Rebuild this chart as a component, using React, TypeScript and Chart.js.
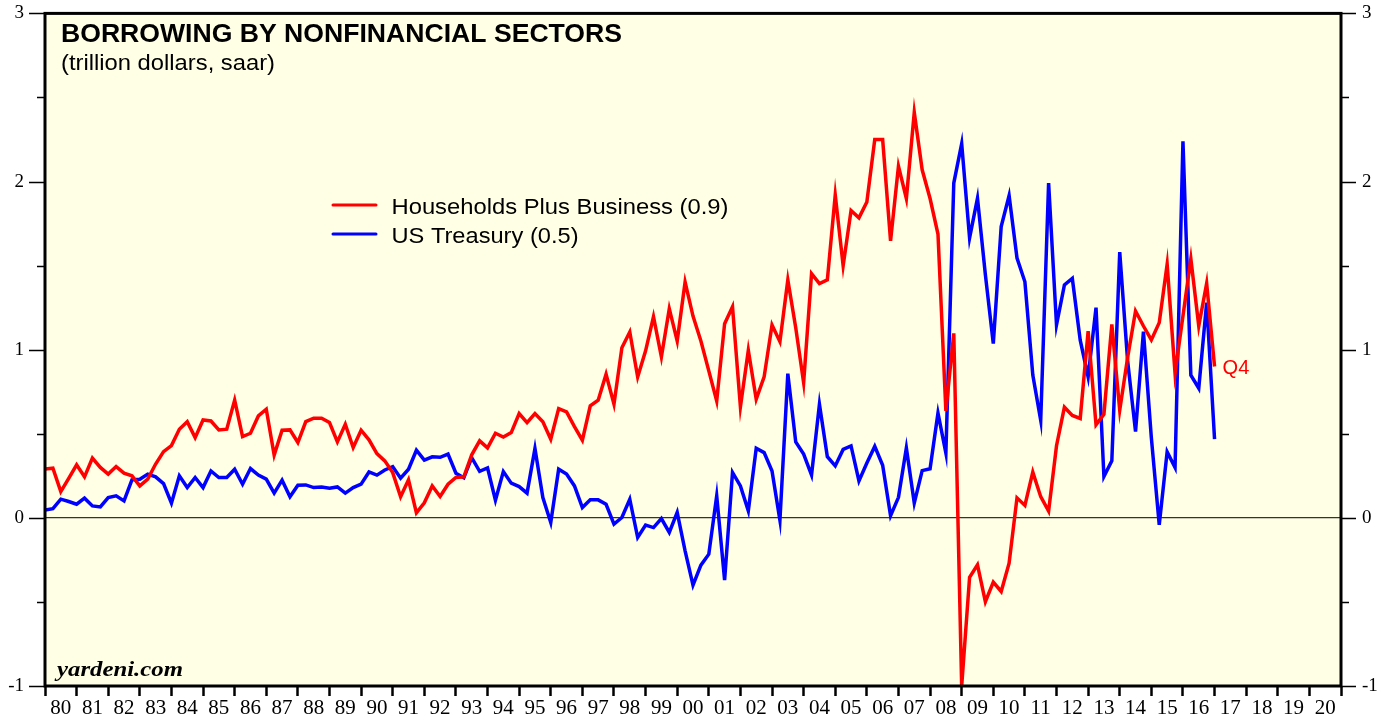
import { useEffect, useRef } from "react";
import { Chart, registerables } from "chart.js";
Chart.register(...registerables);

// Quarters 1979Q4 .. 2016Q4 (plotted at quarter end)
const quarterLabels: string[] = [];
for (let y = 1979; y <= 2016; y++) {
  for (let q = 1; q <= 4; q++) {
    if (y === 1979 && q < 4) continue;
    quarterLabels.push(`${y}Q${q}`);
  }
}
const quarterPos = quarterLabels.map((s) => Number(s.slice(0, 4)) + Number(s.slice(5)) / 4);

const householdsBusiness = [
  0.29, 0.295, 0.156, 0.235, 0.315, 0.244, 0.355, 0.3, 0.26, 0.305,
  0.266, 0.25, 0.19, 0.23, 0.32, 0.394, 0.43, 0.527, 0.572, 0.477,
  0.582, 0.576, 0.523, 0.527, 0.7, 0.483, 0.503, 0.606, 0.646, 0.373,
  0.521, 0.523, 0.448, 0.572, 0.593, 0.593, 0.567, 0.452, 0.557, 0.418,
  0.521, 0.464, 0.382, 0.339, 0.269, 0.125, 0.226, 0.03, 0.09, 0.19,
  0.127, 0.2, 0.24, 0.244, 0.375, 0.458, 0.416, 0.503, 0.481, 0.507,
  0.62, 0.566, 0.62, 0.572, 0.468, 0.65, 0.63, 0.543, 0.462, 0.666,
  0.7, 0.854, 0.676, 1.012, 1.105, 0.838, 0.993, 1.197, 0.957, 1.244,
  1.052, 1.403, 1.2, 1.052, 0.874, 0.695, 1.155, 1.256, 0.66, 0.997,
  0.705, 0.838, 1.147, 1.048, 1.415, 1.131, 0.804, 1.452, 1.393, 1.415,
  1.92, 1.5, 1.828, 1.784, 1.878, 2.25, 2.25, 1.647, 2.092, 1.899,
  2.411, 2.07, 1.899, 1.688, 0.636, 1.097, -1.0, -0.353, -0.279, -0.499,
  -0.382, -0.438, -0.27, 0.119, 0.074, 0.272, 0.126, 0.04, 0.429, 0.658,
  0.609, 0.591, 1.111, 0.553, 0.616, 1.151, 0.64, 0.953, 1.23, 1.141,
  1.058, 1.161, 1.508, 0.86, 1.2, 1.541, 1.141, 1.395, 0.9,
];

const usTreasury = [
  0.046, 0.055, 0.111, 0.097, 0.081, 0.117, 0.071, 0.065, 0.121, 0.131,
  0.101, 0.226, 0.23, 0.26, 0.244, 0.204, 0.087, 0.25, 0.18, 0.24,
  0.18, 0.279, 0.24, 0.24, 0.289, 0.2, 0.293, 0.254, 0.23, 0.147,
  0.224, 0.125, 0.194, 0.196, 0.18, 0.184, 0.176, 0.184, 0.147, 0.18,
  0.2, 0.273, 0.254, 0.285, 0.305, 0.236, 0.289, 0.402, 0.343, 0.363,
  0.36, 0.379, 0.265, 0.238, 0.358, 0.277, 0.297, 0.105, 0.275, 0.206,
  0.186, 0.147, 0.412, 0.121, -0.028, 0.289, 0.26, 0.19, 0.061, 0.107,
  0.107, 0.081, -0.037, 0.002, 0.111, -0.117, -0.043, -0.058, -0.004, -0.087,
  0.032, -0.196, -0.4, -0.281, -0.216, 0.131, -0.37, 0.27, 0.19, 0.042,
  0.414, 0.388, 0.279, -0.014, 0.858, 0.452, 0.379, 0.254, 0.676, 0.364,
  0.309, 0.407, 0.428, 0.22, 0.326, 0.425, 0.313, 0.013, 0.122, 0.416,
  0.088, 0.281, 0.292, 0.624, 0.385, 1.991, 2.225, 1.665, 1.901, 1.445,
  1.036, 1.733, 1.917, 1.545, 1.404, 0.849, 0.58, 1.991, 1.148, 1.385,
  1.424, 1.057, 0.838, 1.25, 0.246, 0.339, 1.581, 0.933, 0.513, 1.107,
  0.477, -0.042, 0.392, 0.299, 2.24, 0.848, 0.771, 1.28, 0.468,
];

const yearLabels = [
  "80", "81", "82", "83", "84", "85", "86", "87", "88", "89",
  "90", "91", "92", "93", "94", "95", "96", "97", "98", "99",
  "00", "01", "02", "03", "04", "05", "06", "07", "08", "09",
  "10", "11", "12", "13", "14", "15", "16", "17", "18", "19", "20",
];
const firstYear = 1980;

const titleText = "BORROWING BY NONFINANCIAL SECTORS";
const subtitleText = "(trillion dollars, saar)";
const seriesNames = ["Households Plus Business (0.9)", "US Treasury (0.5)"];
const sourceText = "yardeni.com";
const lastLabel = "Q4";

const RED = "#ff0000";
const BLUE = "#0000ff";
const BG = "rgb(255,255,230)";

function fitText(ctx: CanvasRenderingContext2D, text: string, x: number, y: number, font: string, targetW: number, color: string) {
  ctx.save();
  ctx.font = font;
  ctx.fillStyle = color;
  ctx.textAlign = "left";
  ctx.textBaseline = "alphabetic";
  const w = ctx.measureText(text).width;
  ctx.translate(x, y);
  ctx.scale(targetW / w, 1);
  ctx.fillText(text, 0, 0);
  ctx.restore();
}

const decorPlugin = {
  id: "decor",
  beforeDraw(chart: any) {
    const { ctx, chartArea: a } = chart;
    ctx.save();
    ctx.fillStyle = BG;
    ctx.fillRect(a.left, a.top, a.right - a.left, a.bottom - a.top);
    ctx.restore();
  },
  afterDraw(chart: any) {
    const { ctx, chartArea: a } = chart;
    const ys = chart.scales.y;
    ctx.save();
    // y tick marks (major/minor), both sides
    ctx.strokeStyle = "#000";
    ctx.lineWidth = 1.5;
    ys.ticks.forEach((t: any) => {
      const py = Math.round(ys.getPixelForValue(t.value)) + 0.5;
      const major = Number.isInteger(t.value);
      ctx.beginPath();
      ctx.moveTo(a.left - (major ? 16 : 8), py);
      ctx.lineTo(a.left, py);
      ctx.moveTo(a.right, py);
      ctx.lineTo(a.right + (major ? 15 : 8), py);
      ctx.stroke();
    });
    // frame
    ctx.lineWidth = 3;
    ctx.strokeRect(a.left, a.top, a.right - a.left, a.bottom - a.top);
    ctx.restore();

    // texts
    fitText(ctx, titleText, 61, 41.7, "bold 26px 'Liberation Sans', Arial, sans-serif", 561, "#000");
    fitText(ctx, subtitleText, 61, 69.5, "22px 'Liberation Sans', Arial, sans-serif", 214, "#000");

    // legend
    const legendColors = [RED, BLUE];
    const legendLineY = [205, 234];
    const legendBase = [214, 243];
    const legendW = [337, 187];
    ctx.save();
    ctx.lineWidth = 3;
    ctx.lineCap = "round";
    seriesNames.forEach((name, i) => {
      ctx.strokeStyle = legendColors[i];
      ctx.beginPath();
      ctx.moveTo(333, legendLineY[i]);
      ctx.lineTo(376, legendLineY[i]);
      ctx.stroke();
      fitText(ctx, name, 391.5, legendBase[i], "22px 'Liberation Sans', Arial, sans-serif", legendW[i], "#000");
    });
    ctx.restore();

    fitText(ctx, sourceText, 57, 676, "italic bold 20px 'Liberation Serif', 'Times New Roman', serif", 126, "#000");

    // Q4 label next to the last red point
    const xs = chart.scales.x;
    const lastX = xs.getPixelForValue(quarterPos[quarterPos.length - 1]);
    const lastY = ys.getPixelForValue(householdsBusiness[householdsBusiness.length - 1]);
    fitText(ctx, lastLabel, lastX + 8, lastY + 7.5, "20px 'Liberation Sans', Arial, sans-serif", 26.7, RED);
  },
};

export default function App() {
  const ref = useRef<HTMLCanvasElement | null>(null);
  useEffect(() => {
    if (!ref.current) return;
    const chart = new Chart(ref.current, {
      type: "line",
      data: {
        datasets: [
          {
            label: seriesNames[0],
            data: householdsBusiness.map((v, i) => ({ x: quarterPos[i], y: v })),
            borderColor: RED,
            borderWidth: 3.5,
            pointRadius: 0,
            tension: 0,
            borderJoinStyle: "miter",
            yAxisID: "y",
          },
          {
            label: seriesNames[1],
            data: usTreasury.map((v, i) => ({ x: quarterPos[i], y: v })),
            borderColor: BLUE,
            borderWidth: 3.5,
            pointRadius: 0,
            tension: 0,
            borderJoinStyle: "miter",
            yAxisID: "y",
          },
        ],
      },
      options: {
        responsive: false,
        animation: false,
        devicePixelRatio: 1,
        layout: { padding: { top: 13, left: 0, right: 0, bottom: 0 } },
        plugins: { legend: { display: false }, tooltip: { enabled: false }, title: { display: false } },
        scales: {
          x: {
            type: "linear",
            min: firstYear,
            max: firstYear + yearLabels.length,
            afterBuildTicks: (s: any) => {
              const t: any[] = [];
              for (let i = 0; i <= yearLabels.length; i++) {
                t.push({ value: firstYear + i });
                if (i < yearLabels.length) t.push({ value: firstYear + i + 0.5 });
              }
              s.ticks = t;
            },
            afterFit: (s: any) => {
              s.height = 33;
            },
            ticks: {
              autoSkip: false,
              maxRotation: 0,
              minRotation: 0,
              padding: 0,
              color: "#000",
              font: { family: "'Liberation Serif', 'Times New Roman', serif", size: 21 },
              callback: (v: any) => {
                const n = Number(v);
                if (Number.isInteger(n)) return "";
                return yearLabels[Math.floor(n) - firstYear] ?? "";
              },
            },
            grid: {
              display: true,
              drawOnChartArea: false,
              drawTicks: true,
              tickLength: 10,
              tickWidth: 2.5,
              tickColor: (c: any) => (Number.isInteger(c.tick?.value) ? "#000" : "rgba(0,0,0,0)"),
            },
            border: { display: false },
          },
          y: {
            position: "left",
            min: -1,
            max: 3,
            afterFit: (s: any) => {
              s.width = 45;
            },
            ticks: {
              stepSize: 0.5,
              padding: 2,
              color: "#000",
              font: { family: "'Liberation Serif', 'Times New Roman', serif", size: 19 },
              callback: (v: any) => (Number.isInteger(Number(v)) ? String(v) : ""),
            },
            grid: {
              drawTicks: true,
              tickLength: 19,
              tickColor: "rgba(0,0,0,0)",
              color: (c: any) => (c.tick?.value === 0 ? "#333" : "rgba(0,0,0,0)"),
              lineWidth: 1.2,
            },
            border: { display: false },
          },
          y2: {
            position: "right",
            min: -1,
            max: 3,
            afterFit: (s: any) => {
              s.width = 51;
            },
            ticks: {
              stepSize: 0.5,
              padding: 2,
              color: "#000",
              font: { family: "'Liberation Serif', 'Times New Roman', serif", size: 19 },
              callback: (v: any) => (Number.isInteger(Number(v)) ? String(v) : ""),
            },
            grid: {
              drawOnChartArea: false,
              drawTicks: true,
              tickLength: 19,
              tickColor: "rgba(0,0,0,0)",
            },
            border: { display: false },
          },
        },
      },
      plugins: [decorPlugin],
    });
    return () => chart.destroy();
  }, []);
  return (
    <div style={{ position: "absolute", left: 0, top: 0, width: 1392, height: 719, background: "#fff" }}>
      <canvas ref={ref} width={1392} height={719} style={{ display: "block" }} />
    </div>
  );
}
